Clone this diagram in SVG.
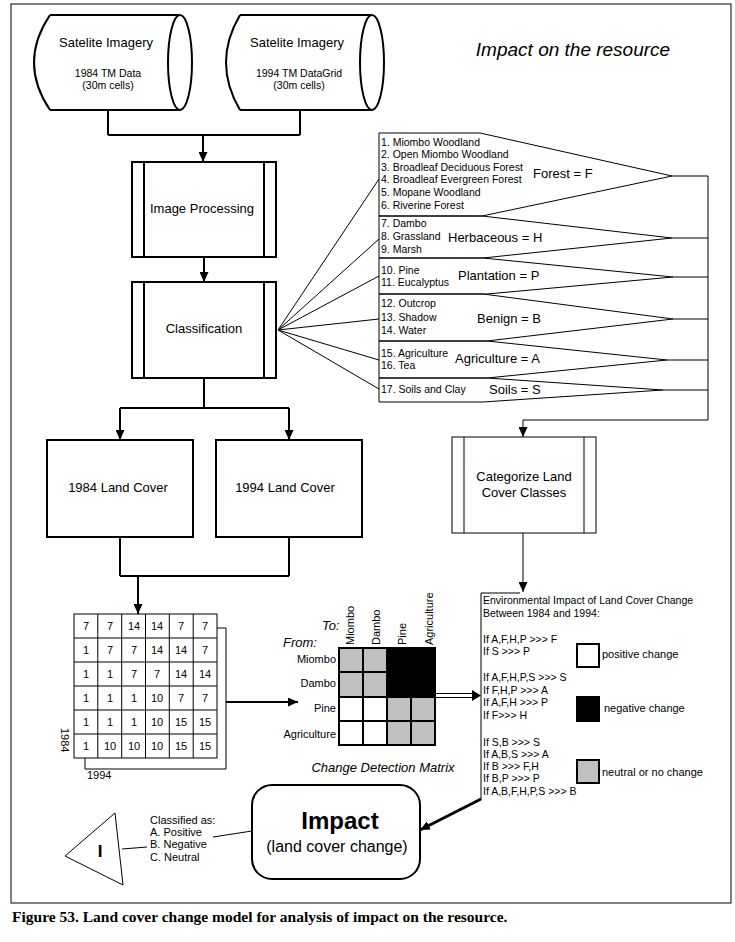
<svg xmlns="http://www.w3.org/2000/svg" width="735" height="942" viewBox="0 0 735 942">
<style>
text{font-family:"Liberation Sans",Arial,sans-serif;fill:#000}
.b2{fill:#fff;stroke:#000;stroke-width:2}
.t13{font-size:13px;text-anchor:middle}
.t10{font-size:10.5px}
.t11{font-size:11px}
.c{text-anchor:middle}
.r{text-anchor:end}
.it{font-style:italic}
.thin{fill:none;stroke:#000;stroke-width:1}
.thick{fill:none;stroke:#000;stroke-width:2}
</style>
<defs>
<marker id="ah" markerUnits="userSpaceOnUse" markerWidth="10" markerHeight="9" refX="10" refY="4.5" orient="auto"><path d="M0,0 L10,4.5 L0,9 Z" fill="#000"/></marker>
</defs>
<rect x="11" y="4" width="720" height="899" fill="#fff" stroke="#000" stroke-width="1"/>
<text x="573" y="56" class="it" style="font-size:19px;text-anchor:middle">Impact on the resource</text>

<g id="sat1">
<path d="M50,15 H180 M50,110 H180 M50,15 Q18,62.5 50,110" class="thick"/>
<ellipse cx="180" cy="62.5" rx="12" ry="47.5" class="thick"/>
<text x="106" y="47" class="t13">Satelite Imagery</text>
<text x="108" y="77" class="t10 c">1984 TM Data</text>
<text x="108" y="89" class="t10 c">(30m cells)</text>
</g>
<g id="sat2">
<path d="M240,15 H372 M240,110 H372 M240,15 Q212,62.5 240,110" class="thick"/>
<ellipse cx="372" cy="62.5" rx="12" ry="47.5" class="thick"/>
<text x="297" y="47" class="t13">Satelite Imagery</text>
<text x="299" y="77" class="t10 c">1994 TM DataGrid</text>
<text x="299" y="89" class="t10 c">(30m cells)</text>
</g>

<g id="imgproc">
<rect x="132" y="162" width="144" height="95" class="b2"/>
<path d="M144,162 V257 M264,162 V257" class="thick"/>
<text x="202" y="213" class="t13">Image Processing</text>
</g>
<g id="classification">
<rect x="132" y="282" width="144" height="96" class="b2"/>
<path d="M144,282 V378 M264,282 V378" class="thick"/>
<text x="204" y="333" class="t13">Classification</text>
</g>

<g id="classlist">
<path d="M379,133 H480 L672,176 L482,216 H379 Z" class="thin"/>
<path d="M379,216 H482 L672,238 L483,258 H379 Z" class="thin"/>
<path d="M379,258 H483 L673,277 L487,294 H379 Z" class="thin"/>
<path d="M379,294 H483 L673,319 L487,341 H379 Z" class="thin"/>
<path d="M379,341 H487 L667,360 L487,378 H379 Z" class="thin"/>
<path d="M379,378 H487 L663,390 L483,402 H379 Z" class="thin"/>
<text x="381" y="146" class="t10">1. Miombo Woodland</text>
<text x="381" y="158" class="t10">2. Open Miombo Woodland</text>
<text x="381" y="171" class="t10">3. Broadleaf  Deciduous Forest</text>
<text x="381" y="183" class="t10">4. Broadleaf Evergreen Forest</text>
<text x="381" y="196" class="t10">5. Mopane Woodland</text>
<text x="381" y="209" class="t10">6. Riverine Forest</text>
<text x="533" y="178" style="font-size:13px">Forest = F</text>
<text x="381" y="227" class="t10">7. Dambo</text>
<text x="381" y="240" class="t10">8. Grassland</text>
<text x="381" y="253" class="t10">9. Marsh</text>
<text x="448" y="242" style="font-size:13px">Herbaceous = H</text>
<text x="381" y="274" class="t10">10. Pine</text>
<text x="381" y="286" class="t10">11. Eucalyptus</text>
<text x="458" y="280" style="font-size:13px">Plantation = P</text>
<text x="381" y="307" class="t10">12. Outcrop</text>
<text x="381" y="321" class="t10">13. Shadow</text>
<text x="381" y="334" class="t10">14. Water</text>
<text x="477" y="323" style="font-size:13px">Benign = B</text>
<text x="381" y="357" class="t10">15. Agriculture</text>
<text x="381" y="369" class="t10">16. Tea</text>
<text x="455" y="363" style="font-size:13px">Agriculture = A</text>
<text x="381" y="393" class="t10">17. Soils and Clay</text>
<text x="489" y="394" style="font-size:13px">Soils = S</text>
</g>

<g id="lc1984">
<rect x="47" y="440" width="146" height="97" class="b2"/>
<text x="118" y="492" class="t13">1984 Land Cover</text>
</g>
<g id="lc1994">
<rect x="216" y="440" width="146" height="97" class="b2"/>
<text x="285" y="492" class="t13">1994 Land Cover</text>
</g>

<g id="categorize">
<rect x="452" y="437" width="144" height="96" fill="#fff" stroke="#000" stroke-width="1"/>
<path d="M464,437 V533 M584,437 V533" class="thin"/>
<text x="524" y="481" class="t13">Categorize Land</text>
<text x="524" y="497" class="t13">Cover Classes</text>
</g>

<g id="grid">
<path d="M217,628 H226 V769 H85 V758" class="thin"/>
<rect x="74" y="614" width="143" height="144" fill="#fff" stroke="#000"/>
<path d="M97.8,614 V758 M121.7,614 V758 M145.5,614 V758 M169.3,614 V758 M193.2,614 V758 M74,638 H217 M74,662 H217 M74,686 H217 M74,710 H217 M74,734 H217" class="thin"/>
<g class="t11 c">
<text x="86" y="630">7</text><text x="110" y="630">7</text><text x="134" y="630">14</text><text x="157" y="630">14</text><text x="181" y="630">7</text><text x="205" y="630">7</text>
<text x="86" y="654">1</text><text x="110" y="654">7</text><text x="134" y="654">7</text><text x="157" y="654">14</text><text x="181" y="654">14</text><text x="205" y="654">7</text>
<text x="86" y="678">1</text><text x="110" y="678">1</text><text x="134" y="678">7</text><text x="157" y="678">7</text><text x="181" y="678">14</text><text x="205" y="678">14</text>
<text x="86" y="702">1</text><text x="110" y="702">1</text><text x="134" y="702">1</text><text x="157" y="702">10</text><text x="181" y="702">7</text><text x="205" y="702">7</text>
<text x="86" y="726">1</text><text x="110" y="726">1</text><text x="134" y="726">1</text><text x="157" y="726">10</text><text x="181" y="726">15</text><text x="205" y="726">15</text>
<text x="86" y="750">1</text><text x="110" y="750">10</text><text x="134" y="750">10</text><text x="157" y="750">10</text><text x="181" y="750">15</text><text x="205" y="750">15</text>
</g>
<text transform="translate(61,728) rotate(90)" class="t11">1984</text>
<text x="87" y="779" class="t11">1994</text>
</g>

<g id="matrix">
<rect x="339" y="648" width="48" height="49" fill="#c0c0c0"/>
<rect x="387" y="648" width="48" height="49" fill="#000"/>
<rect x="339" y="697" width="48" height="48" fill="#fff"/>
<rect x="387" y="697" width="48" height="48" fill="#c0c0c0"/>
<path d="M339,648 H435 V745 H339 Z M363,648 V745 M387,648 V745 M411,697 V745 M339,672 H387 M339,697 H435 M339,721 H435" class="thick"/>
<text transform="translate(354,645) rotate(-90)" class="t11">Miombo</text>
<text transform="translate(380,645) rotate(-90)" class="t11">Dambo</text>
<text transform="translate(406,645) rotate(-90)" class="t11">Pine</text>
<text transform="translate(433,645) rotate(-90)" class="t11">Agriculture</text>
<text x="322" y="630" class="it" style="font-size:13px">To:</text>
<text x="283" y="647" class="it" style="font-size:13px">From:</text>
<text x="336" y="663" class="t11 r">Miombo</text>
<text x="336" y="687" class="t11 r">Dambo</text>
<text x="336" y="712" class="t11 r">Pine</text>
<text x="336" y="738" class="t11 r">Agriculture</text>
<text x="383" y="772" class="it c" style="font-size:13px">Change Detection Matrix</text>
</g>

<g id="envimpact">
<path d="M520,593 H481 V800" class="thin"/>
<g class="t10">
<text x="483" y="604">Environmental Impact of Land Cover Change</text>
<text x="483" y="617">Between 1984 and 1994:</text>
<text x="483" y="643">If A,F,H,P &gt;&gt;&gt; F</text>
<text x="483" y="655">If S &gt;&gt;&gt; P</text>
<text x="483" y="681">If A,F,H,P,S &gt;&gt;&gt; S</text>
<text x="483" y="694">If F,H,P &gt;&gt;&gt; A</text>
<text x="483" y="706">If A,F,H &gt;&gt;&gt; P</text>
<text x="483" y="719">If F&gt;&gt;&gt; H</text>
<text x="483" y="746">If S,B &gt;&gt;&gt; S</text>
<text x="483" y="758">If A,B,S &gt;&gt;&gt; A</text>
<text x="483" y="770">If B &gt;&gt;&gt; F,H</text>
<text x="483" y="782">If B,P &gt;&gt;&gt; P</text>
<text x="483" y="795">If A,B,F,H,P,S &gt;&gt;&gt; B</text>
</g>
<rect x="577" y="644" width="22" height="23" class="b2"/>
<text x="602" y="658" class="t11">positive change</text>
<rect x="576" y="696" width="24" height="26" fill="#000"/>
<text x="604" y="712" class="t11">negative change</text>
<rect x="577" y="760" width="22" height="23" fill="#c0c0c0" stroke="#000" stroke-width="2"/>
<text x="602" y="776" class="t11">neutral or no change</text>
</g>

<g id="impact">
<rect x="252" y="785" width="168" height="94" rx="20" class="b2"/>
<text x="340" y="829" style="font-size:24px;font-weight:bold;text-anchor:middle">Impact</text>
<text x="337" y="852" style="font-size:16px;text-anchor:middle">(land cover change)</text>
</g>

<g id="indicator">
<polygon points="65,856 115,813 123,885" fill="#fff" stroke="#000" stroke-width="1"/>
<text x="100" y="857" style="font-size:17px;font-weight:bold;text-anchor:middle">I</text>
<text x="150" y="824" class="t11">Classified as:</text>
<text x="150" y="836" class="t11">A. Positive</text>
<text x="150" y="848" class="t11">B. Negative</text>
<text x="150" y="861" class="t11">C. Neutral</text>
</g>

<g id="connectors">
<path d="M108,110 V135 M300,110 V135 M108,135 H300" class="thick"/>
<path d="M203,135 V162" class="thick" marker-end="url(#ah)"/>
<path d="M204,257 V282" class="thick" marker-end="url(#ah)"/>
<path d="M204,378 V408 M120,408 H289" class="thick"/>
<path d="M120,408 V440" class="thick" marker-end="url(#ah)"/>
<path d="M289,408 V440" class="thick" marker-end="url(#ah)"/>
<path d="M120,537 V576 M289,537 V576 M120,576 H289" class="thick"/>
<path d="M138,576 V614" class="thick" marker-end="url(#ah)"/>
<path d="M278,330 L379,179 M278,330 L379,239 M278,330 L379,276 M278,330 L379,319 M278,330 L379,360 M278,330 L379,389" class="thin"/>
<path d="M672,176 H708 M672,238 H708 M673,277 H708 M673,319 H708 M667,360 H708 M663,390 H708 M708,176 V420 H523" class="thin"/>
<path d="M523,420 V437" class="thin" marker-end="url(#ah)"/>
<path d="M523,533 V592" class="thin" marker-end="url(#ah)"/>
<path d="M226,702 H298" class="thick" marker-end="url(#ah)"/>
<path d="M435,693.5 H474 M435,697.5 H474" class="thin"/>
<path d="M472,690 L481,695.5 L472,701 Z" fill="#000"/>
<path d="M481,799 L420,830" fill="none" stroke="#000" stroke-width="3" marker-end="url(#ah)"/>
<path d="M252,831 L213,837" class="thin"/>
<path d="M122,849 L147,847" class="thin"/>
</g>

<text x="12" y="922" style="font-family:'Liberation Serif','Times New Roman',serif;font-size:15.5px;font-weight:bold">Figure 53. Land cover change model for analysis of impact on the resource.</text>
</svg>
